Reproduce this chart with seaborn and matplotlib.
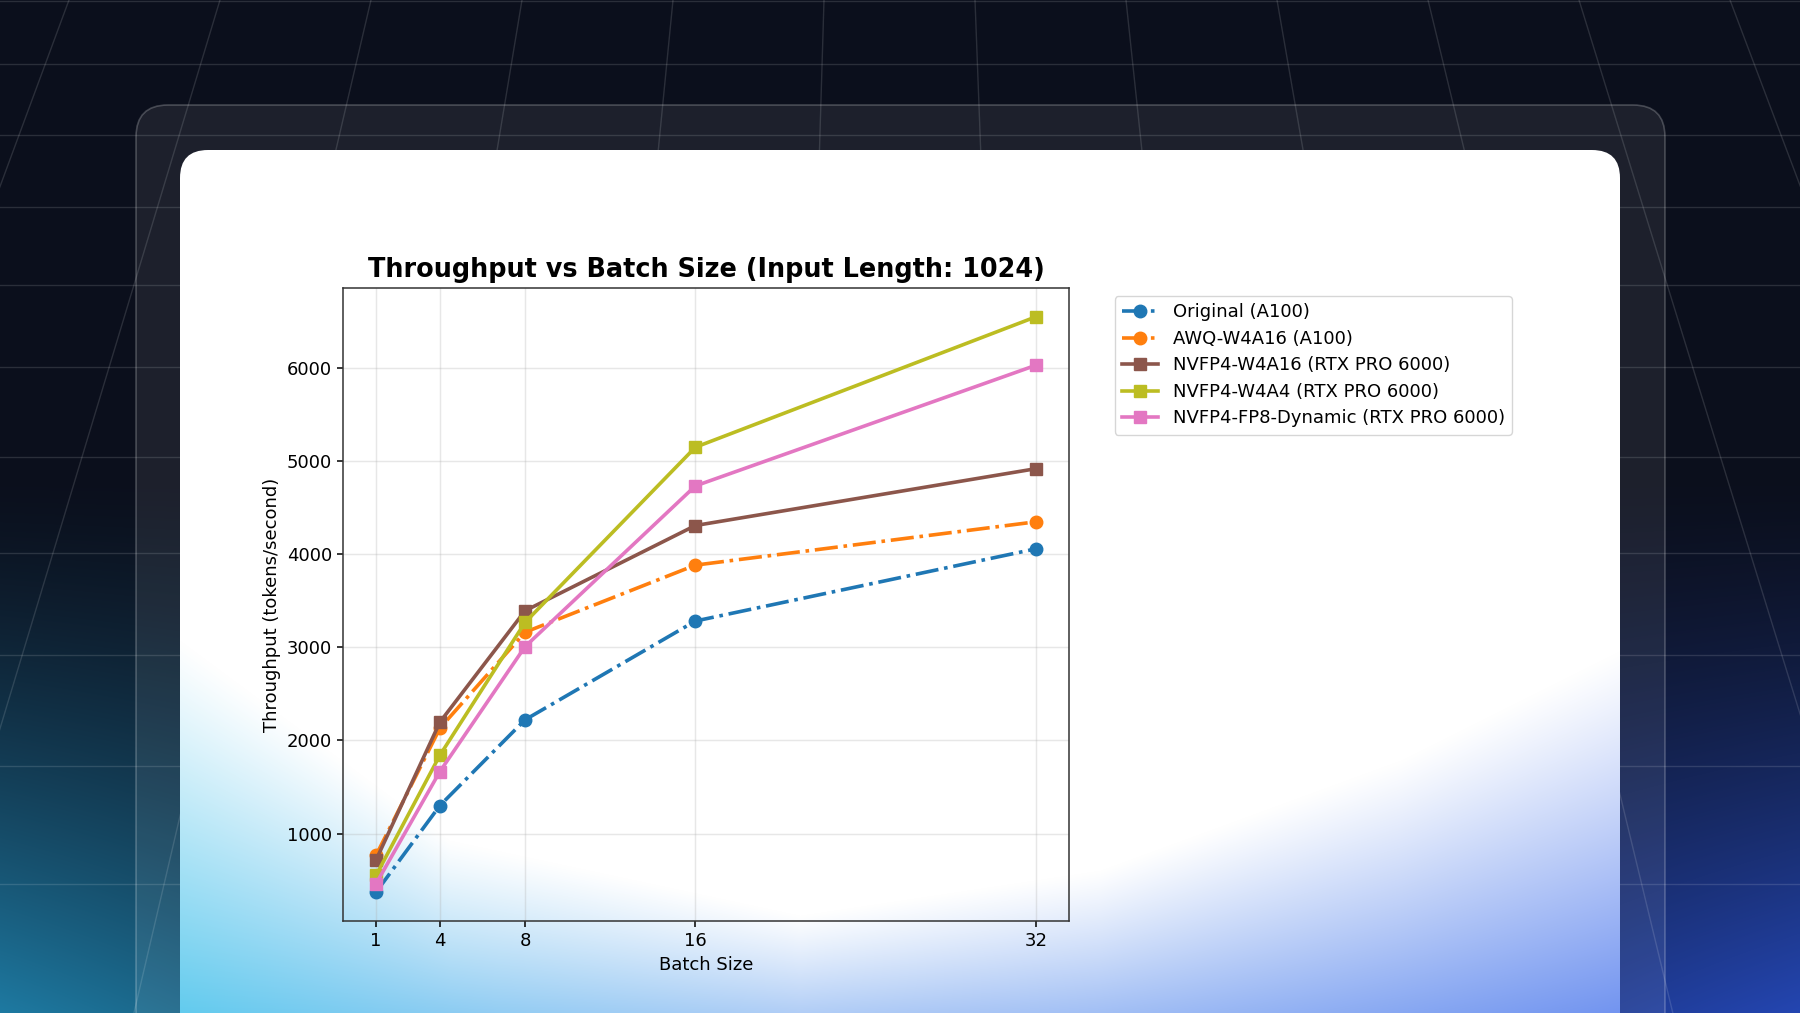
import numpy as np
import pandas as pd
import matplotlib
matplotlib.use("Agg")
import matplotlib.pyplot as plt
from matplotlib.patches import FancyBboxPatch
import seaborn as sns

# ── data ────────────────────────────────────────────────────────────────────
batch_sizes = [1, 4, 8, 16, 32]
original_a100 = [370, 1300, 2220, 3280, 4055]
awq_w4a16_a100 = [765, 2130, 3160, 3880, 4345]
nvfp4_w4a16 = [715, 2195, 3390, 4305, 4915]
nvfp4_w4a4 = [550, 1840, 3265, 5145, 6545]
nvfp4_fp8_dynamic = [460, 1665, 3005, 4730, 6025]

series_names = [
    "Original (A100)",
    "AWQ-W4A16 (A100)",
    "NVFP4-W4A16 (RTX PRO 6000)",
    "NVFP4-W4A4 (RTX PRO 6000)",
    "NVFP4-FP8-Dynamic (RTX PRO 6000)",
]
series_values = [original_a100, awq_w4a16_a100, nvfp4_w4a16,
                 nvfp4_w4a4, nvfp4_fp8_dynamic]
series_colors = ["#1f77b4", "#ff7f0e", "#8c564b", "#bcbd22", "#e377c2"]
series_markers = ["o", "o", "s", "s", "s"]
series_styles = ["-.", "-.", "-", "-", "-"]

df = pd.DataFrame({
    "batch": batch_sizes * len(series_names),
    "throughput": sum(series_values, []),
    "config": np.repeat(series_names, len(batch_sizes)),
})

# ── page background (dark grid + glows) ─────────────────────────────────────
W, H = 1800, 1013
yy, xx = np.mgrid[0:H, 0:W]
base = np.array([11, 15, 28]) / 255
teal = np.array([30, 122, 162]) / 255
blue = np.array([36, 70, 178]) / 255
t = np.clip((yy - 470) / 543, 0, 1) ** 1.4
wt = (t * np.clip(1 - xx / 1000, 0, 1))[..., None]
wb = (t * np.clip((xx - 800) / 1000, 0, 1))[..., None]
page = base * (1 - wt - wb) + teal * wt + blue * wb

# white card with the bottom glow
cy, cx = np.mgrid[150:H, 180:1620]
y0 = np.interp(cx, [180, 450, 800, 1100, 1400, 1620], [640, 840, 915, 870, 760, 650])
glow = np.clip((cy - y0) / (H - y0), 0, 1) ** 1.1
glow *= np.interp(cx, [180, 500, 800, 1100, 1620], [1.0, 0.8, 0.68, 0.75, 1.0])
glow_rgb = np.stack([
    np.interp(cx, [180, 800, 1620], [98, 140, 114]),
    np.interp(cx, [180, 800, 1620], [203, 182, 148]),
    np.interp(cx, [180, 800, 1620], [238, 242, 240]),
], axis=-1) / 255
card = (1 - glow[..., None]) + glow_rgb * glow[..., None]

fig = plt.figure(figsize=(18, 10.13), dpi=100)
bg = fig.add_axes([0, 0, 1, 1])
bg.imshow(page, extent=[0, W, H, 0], aspect="auto", zorder=0)

grid_y = [1, 64, 135, 207, 285, 367, 457, 553, 655, 766, 884]
grid_x0 = [69, 220, 371, 522, 673, 824, 975, 1126, 1277, 1428, 1579, 1730]
for gy in grid_y:
    bg.plot([0, W], [gy, gy], color="white", alpha=0.13, lw=1, zorder=1)
for gx in grid_x0:
    bg.plot([gx, gx + (gx - 891) / 2222 * H], [0, H], color="white",
            alpha=0.13, lw=1, zorder=1)

outer = FancyBboxPatch((136, 105), 1529, 1000,
                       boxstyle="round,pad=0,rounding_size=32",
                       fc=(1, 1, 1, 0.075), ec=(1, 1, 1, 0.22), lw=1.2, zorder=3)
bg.add_patch(outer)
card_clip = FancyBboxPatch((180, 150), 1440, 950,
                           boxstyle="round,pad=0,rounding_size=28",
                           fc="none", ec="none", transform=bg.transData)
bg.add_patch(card_clip)
card_im = bg.imshow(card, extent=[180, 1620, H, 150], aspect="auto", zorder=4)
card_im.set_clip_path(card_clip)
bg.set_xlim(0, W)
bg.set_ylim(H, 0)
bg.axis("off")

# ── chart ───────────────────────────────────────────────────────────────────
ax = fig.add_axes([343 / W, 1 - 921 / H, 726 / W, 633 / H])
ax.set_facecolor("none")

for name, color, marker, ls in zip(series_names, series_colors,
                                   series_markers, series_styles):
    sns.lineplot(data=df[df["config"] == name], x="batch", y="throughput",
                 ax=ax, color=color, marker=marker, linestyle=ls,
                 linewidth=2.6, markersize=9, markeredgecolor=color,
                 markeredgewidth=1, label=name)

ax.set_xticks(batch_sizes)
ax.grid(True, alpha=0.3, lw=1.05)
ax.tick_params(labelsize=13, width=1.1, length=4.5)
for sp in ax.spines.values():
    sp.set_linewidth(1.1)
    sp.set_color("#333333")
ax.set_xlabel("Batch Size", fontsize=13)
ax.set_ylabel("Throughput (tokens/second)", fontsize=13)
ax.set_title("Throughput vs Batch Size (Input Length: 1024)",
             fontsize=18.4, fontweight="bold", pad=8)
ax.legend(loc="upper left", bbox_to_anchor=(1.063, 0.987), borderaxespad=0,
          fontsize=13, labelspacing=0.47)

fig.savefig("out.png", dpi=100)
